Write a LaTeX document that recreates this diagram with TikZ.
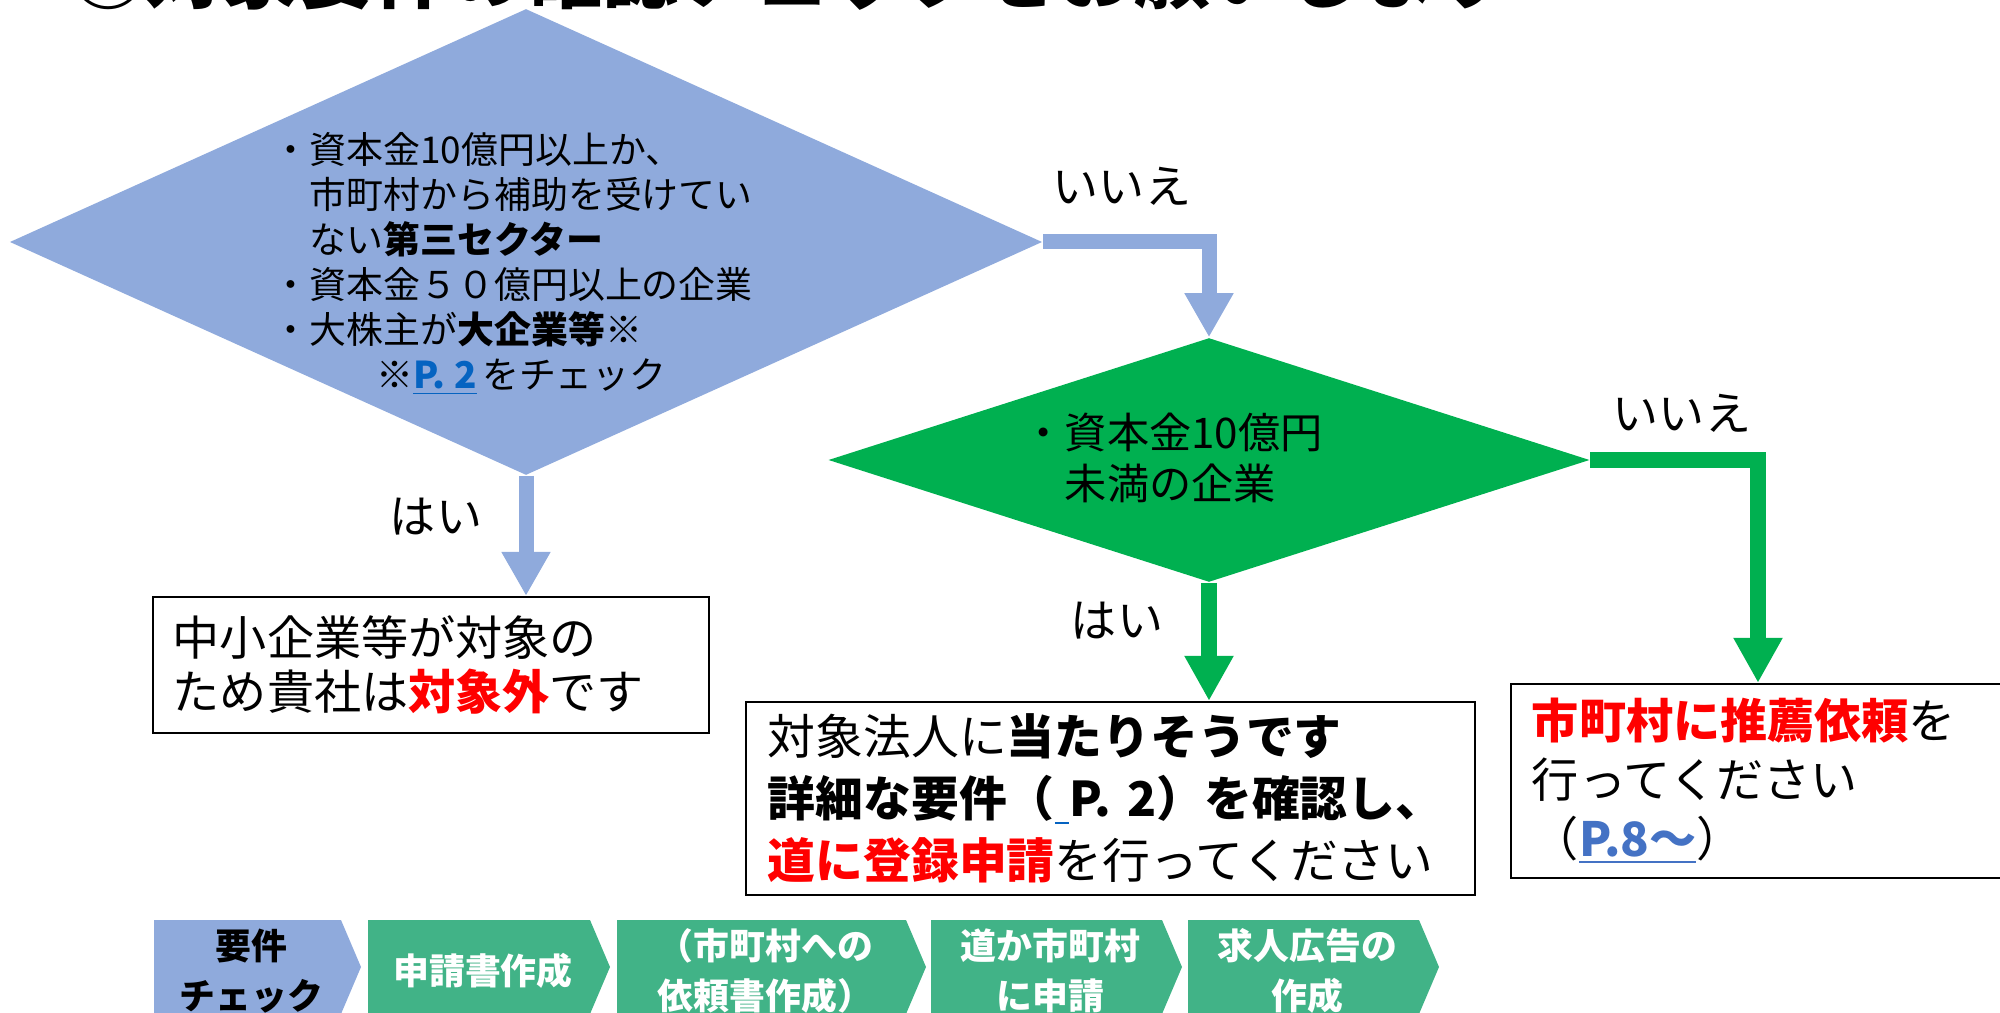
\documentclass[tikz,border=0pt]{standalone}
\usepackage{fontspec}
\setmainfont{Noto Sans CJK JP}
\usepackage{xcolor}
\usetikzlibrary{shapes.geometric}
\usetikzlibrary{arrows.meta}

\definecolor{qblue}{HTML}{8FAADC}
\definecolor{qgreen}{HTML}{00B050}
\definecolor{stepgreen}{RGB}{65,179,135}
\definecolor{linkblue}{HTML}{0563C1}
\definecolor{linklight}{HTML}{4472C4}
\definecolor{alertred}{HTML}{FF0000}

\begin{document}
\begin{tikzpicture}[x=0.01cm, y=-0.01cm,
	qdia/.style={diamond, inner sep=0pt},
	qtext/.style={anchor=west, align=left, inner sep=0pt},
	resbox/.style={draw=black, line width=0.6pt, fill=white, align=left, inner ysep=0pt},
	answer/.style={inner sep=0pt, font={\fontsize{13.1}{15}\selectfont}},
	bluearr/.style={line width=0.15cm, qblue, -{Triangle[length=4.4mm, width=4.6mm]}},
	greenarr/.style={line width=0.16cm, qgreen, -{Triangle[length=4.5mm, width=4.6mm]}},
	steptext/.style={align=center, inner sep=0pt, font={\bfseries\fontsize{10.2}{14.2}\selectfont}}]
	\useasboundingbox (0,0) rectangle (2000,1013);

	% heading, cut off at the top edge
	\node[anchor=base west, inner sep=0pt, font={\bfseries\fontsize{21.6}{26}\selectfont}]
		(title) at (70,3) {①対象要件の確認チェックをお願いします};

	% first question
	\node[qdia, fill=qblue, minimum width=10.32cm, minimum height=4.66cm] (q1) at (526,242) {};
	\node[qtext, font={\fontsize{10.5}{12.8}\selectfont}] (q1txt) at (272,264)
		{・資本金10億円以上か、\\
		\hspace*{1em}市町村から補助を受けてい\\
		\hspace*{1em}ない\textbf{第三セクター}\\
		・資本金５０億円以上の企業\\
		・大株主が\textbf{大企業等}※\\
		\hspace*{2.8em}※\textcolor{linkblue}{\underline{\textbf{P. 2}}}\hspace{0.15em}をチェック};

	% second question
	\node[qdia, fill=qgreen, minimum width=7.61cm, minimum height=2.44cm] (q2) at (1209,460) {};
	\node[qtext, font={\fontsize{12}{14.5}\selectfont}] (q2txt) at (1022,458)
		{・資本金10億円\\
		\hspace*{1em}未満の企業};

	% results
	\node[resbox, inner xsep=0.2cm, text width=5.16cm, minimum height=1.36cm,
		font={\fontsize{13.4}{15.6}\selectfont}] (res1) at (431,665)
		{中小企業等が対象の\\
		ため貴社は\textcolor{alertred}{\textbf{対象外}}です};
	\node[resbox, inner xsep=0.22cm, text width=6.85cm, minimum height=1.93cm,
		font={\fontsize{13.6}{17.6}\selectfont}] (res2) at (1110.5,798.5)
		{対象法人に\textbf{当たりそうです}\\
		\textbf{詳細な要件（\textcolor{linkblue}{\rule[-0.16em]{0.3em}{0.05em}}P. 2）を確認し、}\\
		\textcolor{alertred}{\textbf{道に登録申請}}を行ってください};
	\node[resbox, inner xsep=0.21cm, text width=4.52cm, minimum height=1.94cm,
		font={\fontsize{13.4}{16.8}\selectfont}] (res3) at (1758,781)
		{\textcolor{alertred}{\textbf{市町村に推薦依頼}}を\\
		行ってください\\
		（\textcolor{linklight}{\underline{\textbf{P.8～}}}）};

	% connectors
	\draw[bluearr] (q1.east) -| (q2.north);
	\draw[bluearr] (q1.south) -- (q1.south |- res1.north);
	\draw[greenarr] (q2.east) -| (res3.north);
	\draw[greenarr] (q2.south) -- (q2.south |- res2.north);

	\node[answer] (no1) at (1122,186) {いいえ};
	\node[answer] (yes1) at (436,517) {はい};
	\node[answer] (no2) at (1682,413) {いいえ};
	\node[answer] (yes2) at (1117,621) {はい};

	% process steps along the bottom
	\foreach \l/\r/\c/\t/\txt/\n in {
		154/341/qblue/black/{要件\\チェック}/1,
		368/590/stepgreen/white/{申請書作成}/2,
		617/906/stepgreen/white/{（市町村への\\依頼書作成）}/3,
		931/1162/stepgreen/white/{道か市町村\\に申請}/4,
		1188/1419/stepgreen/white/{求人広告の\\作成}/5} {
		\fill[\c] (\l,920) -- (\r,920) -- ({\r+20},967) -- (\r,1014) -- (\l,1014) -- cycle;
		\node[steptext, text=\t] (step\n) at ({(\l+\r)/2+4},971) {\txt};
	}
\end{tikzpicture}
\end{document}
